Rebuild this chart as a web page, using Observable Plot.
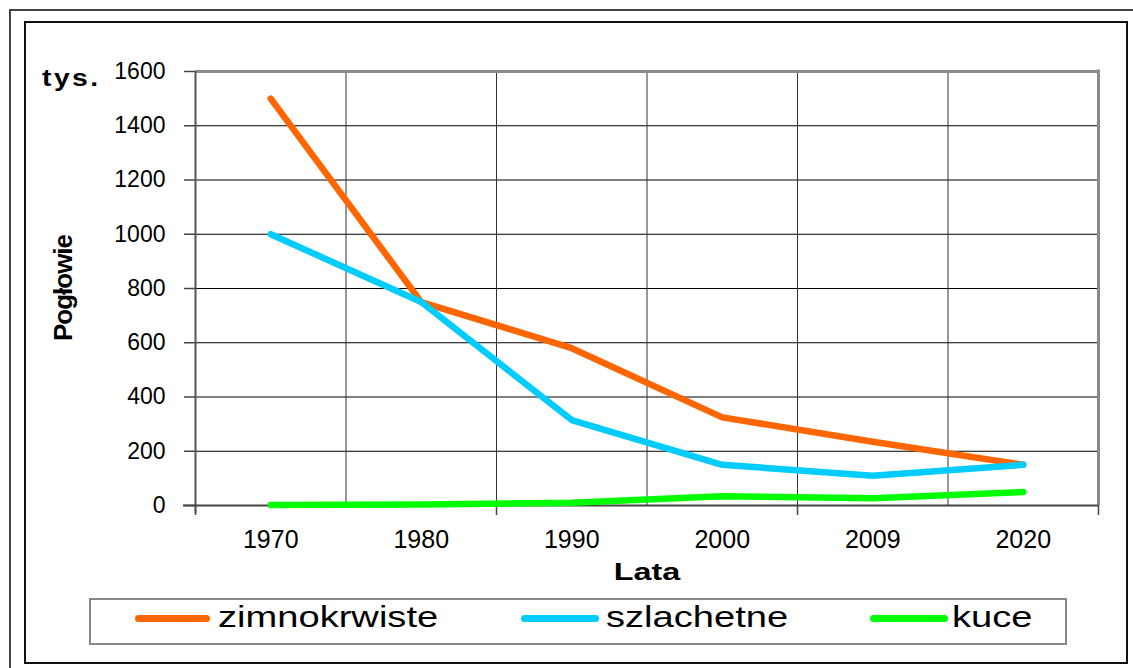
<!DOCTYPE html>
<html><head><meta charset="utf-8">
<script src="https://cdn.jsdelivr.net/npm/d3@7"></script>
<script src="https://cdn.jsdelivr.net/npm/@observablehq/plot@0.6"></script>
<style>
body{margin:0;background:#fff;font-family:"Liberation Sans",Arial,sans-serif;}
#wrap{position:relative;width:1133px;height:668px;overflow:hidden;background:#fff;}
#outer{position:absolute;left:9px;top:9px;width:1200px;height:700px;border-left:2px solid #444;border-top:2px solid #444;}
#inner{position:absolute;left:24px;top:21px;width:1100px;height:639px;border:2px solid #111;}
#chart{position:absolute;left:0;top:0;}
.lbl{position:absolute;font-weight:bold;color:#000;white-space:nowrap;}
#legend{position:absolute;left:89px;top:598px;width:974px;height:43px;border:2px solid #888;background:#fff;}
.sw{position:absolute;height:7px;border-radius:4px;top:14.5px;}
.lt{position:absolute;font-size:30px;line-height:30px;top:2px;transform-origin:left center;transform:scaleX(1.27);color:#000;white-space:nowrap;}
</style></head><body>
<div id="wrap">
  <div id="outer"></div>
  <div id="inner"></div>
  <div id="chart"></div>
  <div class="lbl" id="tys" style="left:42px;top:67px;font-size:23px;line-height:23px;letter-spacing:2px;transform-origin:left center;transform:scaleX(1.23);">tys.</div>
  <div class="lbl" id="pog" style="left:63px;top:288px;font-size:26px;line-height:26px;letter-spacing:-1px;transform:translate(-50%,-50%) rotate(-90deg);">Pogłowie</div>
  <div class="lbl" id="lata" style="left:647px;top:560px;font-size:24px;line-height:24px;transform:translateX(-50%) scaleX(1.35);">Lata</div>
  <div id="legend"></div>
</div>
<script>
const years = ["1970", "1980", "1990", "2000", "2009", "2020"];
const zimnokrwiste = [1500, 750, 580, 325, 235, 150];
const szlachetne = [1000, 750, 315, 150, 110, 150];
const kuce = [2, 4, 10, 34, 27, 50];
const seriesNames = ["zimnokrwiste", "szlachetne", "kuce"];
const seriesColors = ["#FF6600", "#00CCFF", "#00FF00"];
const yTicks = [0, 200, 400, 600, 800, 1000, 1200, 1400, 1600];

const seriesValues = [zimnokrwiste, szlachetne, kuce];
const rows = seriesNames.flatMap((s, k) => seriesValues[k].map((v, i) => ({i, year: years[i], series: s, value: v})));
const boundaries = d3.range(years.length + 1).map(i => i - 0.5);

const chart = Plot.plot({
  width: 1133, height: 668,
  marginLeft: 195, marginRight: 35, marginTop: 71, marginBottom: 163,
  x: {type: "linear", domain: [boundaries[0], boundaries[boundaries.length - 1]], axis: null},
  y: {domain: [0, 1600], axis: null},
  color: {domain: seriesNames, range: seriesColors},
  style: {fontFamily: '"Liberation Sans", Arial, sans-serif', background: "transparent", overflow: "visible"},
  marks: [
    Plot.ruleY(yTicks.slice(1, -1), {stroke: "#000", strokeWidth: 1}),
    Plot.ruleX(boundaries.slice(1, -1), {stroke: "#333", strokeWidth: 1}),
    Plot.ruleY([yTicks[yTicks.length - 1]], {stroke: "#8a8a8a", strokeWidth: 3}),
    Plot.ruleX([boundaries[boundaries.length - 1]], {stroke: "#8a8a8a", strokeWidth: 3, insetTop: -1.5}),
    Plot.ruleY(yTicks, {x1: boundaries[0], x2: boundaries[0], insetLeft: -11, stroke: "#444", strokeWidth: 1.5}),
    Plot.ruleX(boundaries.filter((d, i) => i % 2 === 0), {y1: 0, y2: 0, insetBottom: -10, stroke: "#444", strokeWidth: 1.5}),
    Plot.ruleX([boundaries[0]], {stroke: "#555", strokeWidth: 2, insetBottom: -8}),
    Plot.ruleY([0], {stroke: "#444", strokeWidth: 2, insetLeft: -12}),
    Plot.text(yTicks, {y: d => d, text: d => String(d), frameAnchor: "left", textAnchor: "end", dx: -30, fontSize: 23, fill: "#000"}),
    Plot.text(years, {x: (d, i) => i, text: d => d, frameAnchor: "bottom", dy: 42, fontSize: 25, fill: "#000"}),
    Plot.line(rows, {x: "i", y: "value", z: "series", stroke: "series", strokeWidth: 6.5, strokeLinecap: "round", strokeLinejoin: "round"})
  ]
});
document.getElementById("chart").appendChild(chart);

// legend
const legend = document.getElementById("legend");
const swLeft = [44, 430, 779], swWidth = [75, 78, 78], txtLeft = [127, 515, 861];
seriesNames.forEach((s, k) => {
  const sw = document.createElement("div");
  sw.className = "sw";
  sw.style.left = swLeft[k] + "px";
  sw.style.width = swWidth[k] + "px";
  sw.style.background = seriesColors[k];
  legend.appendChild(sw);
  const t = document.createElement("div");
  t.className = "lt";
  t.style.left = txtLeft[k] + "px";
  t.textContent = s;
  legend.appendChild(t);
});
</script>
</body></html>
